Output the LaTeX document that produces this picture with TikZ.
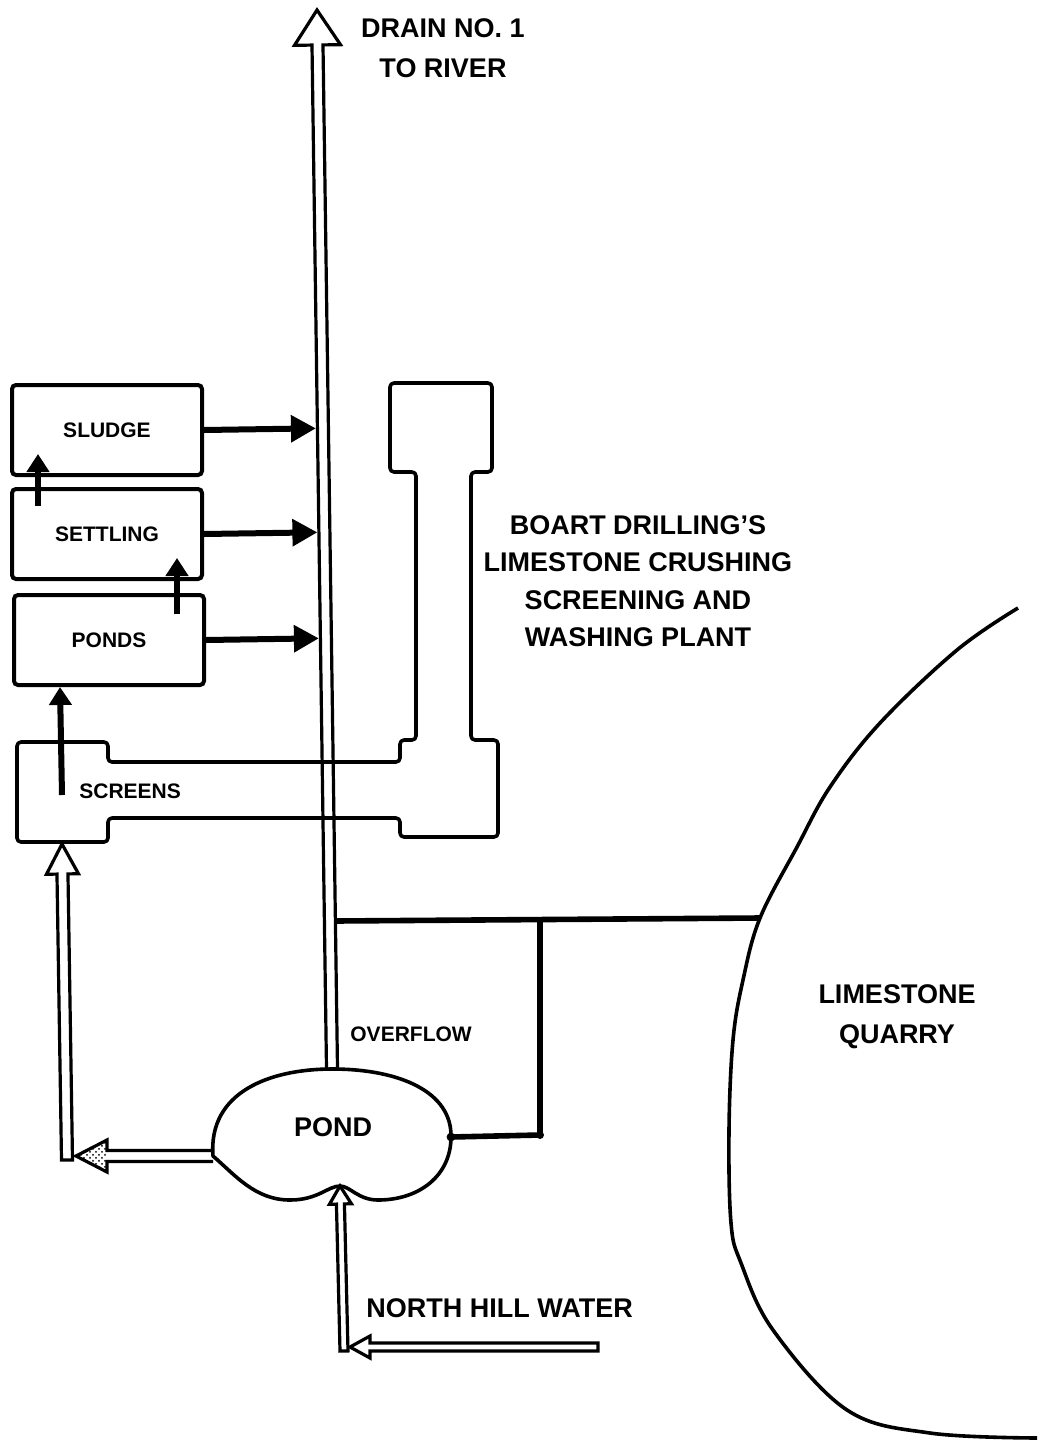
\documentclass[tikz,border=0pt]{standalone}
\usepackage{fontspec}
\setmainfont{Liberation Sans}
\usetikzlibrary{arrows.meta, positioning, calc, patterns}

% open pipe arrow: start, tip, head length, head half width, pipe half width, end of path
\newcommand{\pipearrow}[6]{%
  \path (#2) coordinate (tp) ($(#2)!#3!(#1)$) coordinate (hb);
  \draw[pipe] ($(#1)!#5!90:(#2)$) -- ($(hb)!#5!90:(tp)$) -- ($(hb)!#4!90:(tp)$) -- (tp)
    -- ($(hb)!#4!-90:(tp)$) -- ($(hb)!#5!-90:(tp)$) -- ($(#1)!#5!-90:(#2)$) #6;
}

\begin{document}
\begin{tikzpicture}[
    x=0.5pt, y=-0.5pt,
    node distance=5pt,
    box/.style={draw, line width=2pt, rounded corners=2pt, minimum width=95pt,
                minimum height=45pt, font=\fontsize{10.5}{12}\selectfont\bfseries},
    txt/.style={font=\fontsize{13.5}{20}\selectfont\bfseries, align=center, inner sep=0pt},
    smalltxt/.style={font=\fontsize{10.5}{12}\selectfont\bfseries, inner sep=0pt},
    flow/.style={line width=3pt, -{Triangle[length=12.5pt, width=13pt]}},
    rise/.style={line width=3pt, -{Triangle[length=9pt, width=11pt]}},
    pipe/.style={line width=1.6pt, line join=miter},
    feed/.style={line width=2.8pt},
    outline/.style={line width=1.8pt, line join=round},
  ]
  \useasboundingbox (0,0) rectangle (1043,1440);

  % treatment boxes
  \node[box] (sludge) at (107,430) {SLUDGE};
  \node[box, below=5pt of sludge] (settling) {SETTLING};
  \node[box, below=6pt of settling, xshift=1pt] (ponds) {PONDS};

  % plant and screens outline
  \draw[outline, rounded corners=2pt] (390,383) -- (492,383) -- (492,472) -- (471,472) -- (471,740)
    -- (498,740) -- (498,837) -- (400,837) -- (400,818) -- (108,818) -- (108,842) -- (17,842)
    -- (17,742) -- (108,742) -- (108,762) -- (400,762) -- (400,740) -- (416,740) -- (416,472)
    -- (390,472) -- cycle;
  \node[smalltxt, anchor=west] (screens) at (79,791) {SCREENS};

  % pond
  \coordinate (pondT) at (332,1069);
  \coordinate (pondL) at (213,1156);
  \coordinate (pondR) at (451,1137);
  \coordinate (pondB) at (340,1186);
  \draw[outline] (pondL) .. controls (208,1092) and (270,1069) .. (pondT)
    .. controls (400,1069) and (452,1092) .. (pondR)
    .. controls (451,1175) and (420,1200) .. (378,1200)
    .. controls (358,1200) and (350,1186) .. (pondB)
    .. controls (328,1186) and (318,1200) .. (290,1200)
    .. controls (255,1200) and (235,1175) .. (pondL) -- cycle;
  \node[txt] (pond) at (333,1127) {POND};

  % drain no. 1
  \coordinate (drainT) at (317,10);
  \pipearrow{pondT}{drainT}{17.5pt}{11.5pt}{2.75pt}{}
  \node[txt] (drain) at (443,48) {DRAIN NO. 1\\TO RIVER};

  % flows into the drain
  \draw[flow] (sludge.east) -- ($(pondT)!(sludge.east)!(drainT) + (-7,0)$);
  \draw[flow] (settling.east) -- ($(pondT)!(settling.east)!(drainT) + (-7,0)$);
  \draw[flow] (ponds.east) -- ($(pondT)!(ponds.east)!(drainT) + (-7,0)$);

  % flows upward between boxes
  \coordinate (scr) at (62,795);
  \draw[rise] ($(settling.north west)+(28,19)$) -- ($(sludge.south west)+(28,-23)$);
  \draw[rise] ($(ponds.north east)+(-29,21)$) -- ($(settling.south east)+(-27,-23)$);
  \draw[rise] (scr) -- ($(ponds.south west)+(48,0)$);

  % pond to screens
  \coordinate (bendL) at (67,1160);
  \coordinate (scrS) at (62,844);
  \coordinate (bendT) at (76,1156);
  \pipearrow{bendL}{scrS}{15pt}{8pt}{2.75pt}{-- cycle}
  \pipearrow{pondL}{bendT}{15.5pt}{8pt}{2.75pt}{}
  \fill[pattern=crosshatch dots] ($(hb)!8pt!90:(tp)$) -- (tp) -- ($(hb)!8pt!-90:(tp)$) -- cycle;

  % north hill water
  \coordinate (nhS) at (598,1347);
  \coordinate (nhB) at (344,1351);
  \coordinate (nhT) at (350,1347);
  \pipearrow{nhB}{pondB}{9pt}{5.5pt}{2pt}{-- cycle}
  \pipearrow{nhS}{nhT}{10pt}{5.5pt}{2pt}{-- cycle}
  \node[txt, anchor=west] (nhw) at (366,1308) {NORTH HILL WATER};

  % overflow line to quarry
  \coordinate (bendR) at (540,1135);
  \coordinate (tee) at (540,918);
  \coordinate (q1) at (760,918);
  \draw[feed] (pondR) -- (bendR) -- (tee);
  \draw[feed] ($(pondT)!(tee)!(drainT) + (7,0)$) -- (q1);
  \fill (pondR) circle (2.2pt);
  \fill (bendR) circle (2pt);
  \node[smalltxt, anchor=west] (overflow) at (350,1034) {OVERFLOW};

  % quarry
  \draw[outline] plot[smooth, tension=0.6] coordinates {(1018,608) (957,650) (880,723) (830,787)
    (797,847) (q1) (743,980) (733,1040) (729,1130) (731,1223) (741,1263) (773,1330) (847,1410)
    (930,1433) (1037,1438)};
  \node[txt] (quarry) at (897,1017) {LIMESTONE\\QUARRY};
  \node[txt, font=\fontsize{13.5}{18.7}\selectfont\bfseries] (plant) at (638,581)
    {BOART DRILLING'S\\LIMESTONE CRUSHING\\SCREENING AND\\WASHING PLANT};
\end{tikzpicture}
\end{document}
